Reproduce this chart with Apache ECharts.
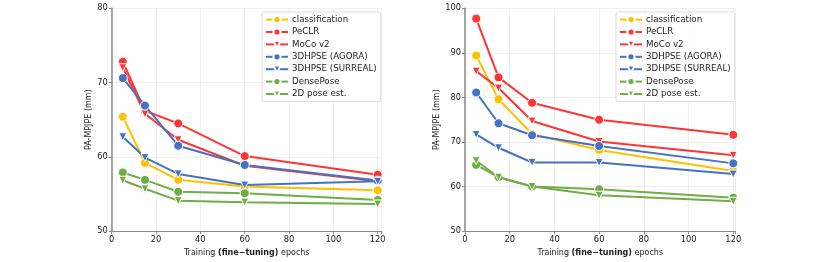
<!DOCTYPE html>
<html><head><meta charset="utf-8">
<script src="https://cdn.jsdelivr.net/npm/echarts@6/dist/echarts.min.js"></script>
<style>html,body{margin:0;padding:0;background:#fff}#c{width:830px;height:262px}</style>
</head><body><div id="c"></div>
<script>
const epochs = [5, 15, 30, 60, 120];
const seriesNames = ['classification', 'PeCLR', 'MoCo v2', '3DHPSE (AGORA)', '3DHPSE (SURREAL)', 'DensePose', '2D pose est.'];
const seriesColors = ['#FFC000', '#FF3535', '#FF3535', '#4472C4', '#4472C4', '#70AD47', '#70AD47'];
const seriesSymbols = ['circle', 'circle', 'triangle', 'circle', 'triangle', 'circle', 'triangle'];
// left panel values (PA-MPJPE, mm)
const leftClassification = [65.4, 59.2, 56.9, 56.0, 55.5];
const leftPeCLR = [72.8, 66.2, 64.5, 60.1, 57.6];
const leftMoCo = [72.0, 65.8, 62.3, 58.8, 56.7];
const leftAgora = [70.6, 66.9, 61.5, 58.9, 56.8];
const leftSurreal = [62.7, 59.9, 57.7, 56.2, 56.7];
const leftDensePose = [57.9, 56.9, 55.3, 55.1, 54.2];
const left2DPose = [56.85, 55.7, 54.1, 53.9, 53.65];
// right panel values (PA-MPJPE, mm)
const rightClassification = [89.4, 79.6, 71.8, 68.2, 63.5];
const rightPeCLR = [97.7, 84.5, 78.8, 75.0, 71.6];
const rightMoCo = [85.9, 82.1, 74.7, 70.1, 67.0];
const rightAgora = [81.1, 74.2, 71.5, 69.1, 65.2];
const rightSurreal = [71.7, 68.7, 65.4, 65.4, 62.8];
const rightDensePose = [64.85, 62.1, 60.0, 59.4, 57.5];
const right2DPose = [65.8, 62.1, 60.0, 58.05, 56.7];
const xTicks = [0, 20, 40, 60, 80, 100, 120];
const leftYTicks = [50, 60, 70, 80];
const rightYTicks = [50, 60, 70, 80, 90, 100];

const leftData = [leftClassification, leftPeCLR, leftMoCo, leftAgora, leftSurreal, leftDensePose, left2DPose];
const rightData = [rightClassification, rightPeCLR, rightMoCo, rightAgora, rightSurreal, rightDensePose, right2DPose];

const FONT = 'DejaVu Sans';
const chart = echarts.init(document.getElementById('c'), null, {renderer: 'canvas'});

function mkX(idx, max) {
  return {
    type: 'value', gridIndex: idx, min: xTicks[0], max: max, interval: 20,
    name: '{n|Training }{b|(fine\u2212tuning)}{n| epochs}',
    nameLocation: 'middle', nameGap: 15,
    nameTextStyle: {rich: {n: {fontFamily: FONT, fontSize: 8, color: '#222'}, b: {fontFamily: FONT, fontSize: 8, fontWeight: 'bold', color: '#222'}}},
    axisLine: {show: true, lineStyle: {color: '#888', width: 1.2}},
    axisTick: {show: true, length: 3, lineStyle: {color: '#888'}},
    axisLabel: {fontFamily: FONT, fontSize: 8.3, color: '#222', margin: 5,
      formatter: v => xTicks.indexOf(v) >= 0 ? String(v) : ''},
    splitLine: {show: true, lineStyle: {color: '#ececec', width: 0.8}}
  };
}
function mkY(idx, ticks) {
  return {
    type: 'value', gridIndex: idx, min: ticks[0], max: ticks[ticks.length - 1], interval: 10,
    name: 'PA-MPJPE (mm)', nameLocation: 'middle', nameGap: 18,
    nameTextStyle: {fontFamily: FONT, fontSize: 8, color: '#222'},
    axisLine: {show: true, lineStyle: {color: '#888', width: 1.5}},
    axisTick: {show: true, length: 3, lineStyle: {color: '#888'}},
    axisLabel: {fontFamily: FONT, fontSize: 8.3, color: '#222', margin: 4},
    splitLine: {show: true, lineStyle: {color: '#ececec', width: 0.8}}
  };
}
function mkSeries(idx, data) {
  return seriesNames.map((n, i) => ({
    name: n, type: 'line', xAxisIndex: idx, yAxisIndex: idx,
    data: epochs.map((e, j) => [e, data[i][j]]),
    symbol: seriesSymbols[i], symbolSize: seriesSymbols[i] === 'triangle' ? 8 : 9,
    symbolRotate: seriesSymbols[i] === 'triangle' ? 180 : 0,
    showAllSymbol: true,
    color: seriesColors[i],
    lineStyle: {width: 2, color: seriesColors[i]},
    itemStyle: {color: seriesColors[i], borderColor: '#fff', borderWidth: 1},
    emphasis: {disabled: true}, animation: false, z: 2 + i
  }));
}
function mkLegend(left) {
  return {
    data: seriesNames, orient: 'vertical', left: left, top: 12,
    padding: [3, 4, 3, 3], itemGap: 3.2, itemWidth: 22, itemHeight: 9,
    backgroundColor: 'rgba(255,255,255,0.85)', borderColor: '#ddd', borderWidth: 1, borderRadius: 2,
    textStyle: {fontFamily: FONT, fontSize: 8.7, color: '#222', padding: [0, 0, 0, -1]},
    selectedMode: false
  };
}
chart.setOption({
  animation: false,
  grid: [
    {left: 111.7, right: 830 - 381.7, top: 8.3, bottom: 26},
    {left: 465, right: 830 - 735.5, top: 8.3, bottom: 26}
  ],
  xAxis: [mkX(0, 121.8), mkX(1, 121)],
  yAxis: [mkY(0, leftYTicks), mkY(1, rightYTicks)],
  legend: [mkLegend(262), mkLegend(616)],
  series: mkSeries(0, leftData).concat(mkSeries(1, rightData))
});
</script></body></html>
